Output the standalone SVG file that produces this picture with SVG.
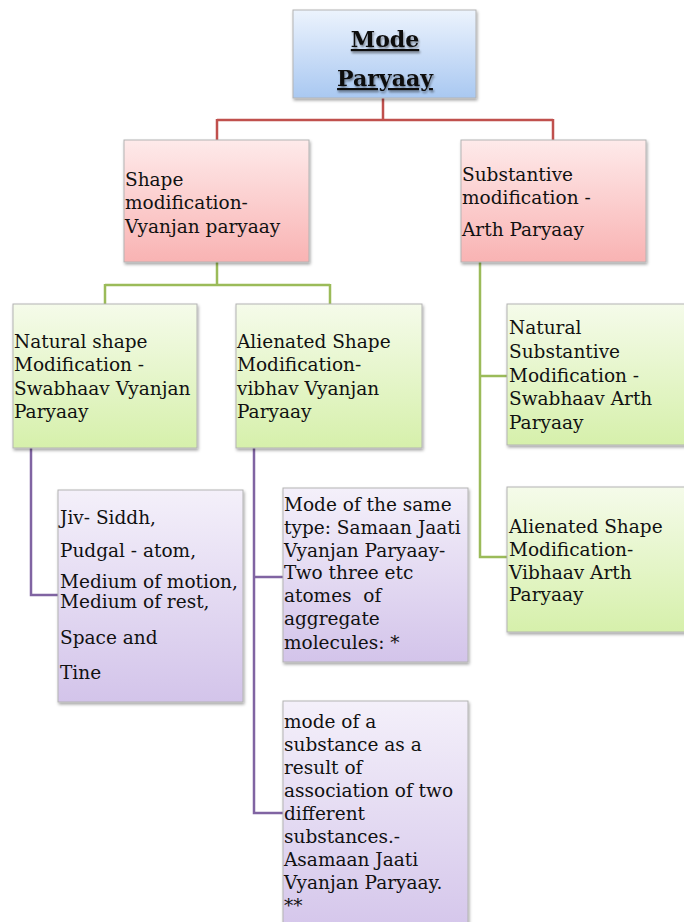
<svg xmlns="http://www.w3.org/2000/svg" width="684" height="922" viewBox="0 0 684 922">
<style>
text{font-family:"DejaVu Serif","Liberation Serif",serif;font-size:18.5px;fill:#111}
.title{font-size:22px;font-weight:bold;text-decoration:underline;filter:url(#tsh)}
.box{stroke:#b3b3b3;stroke-width:1;filter:url(#sh)}
.red{stroke:#c0504d;stroke-width:2.5;fill:none}
.grn{stroke:#9bbb59;stroke-width:2.5;fill:none}
.pur{stroke:#8064a2;stroke-width:2.5;fill:none}
</style>
<defs>
<linearGradient id="gb" x1="0" y1="0" x2="0" y2="1"><stop offset="0" stop-color="#ecf3fd"/><stop offset="1" stop-color="#a9c8f1"/></linearGradient>
<linearGradient id="gr" x1="0" y1="0" x2="0" y2="1"><stop offset="0" stop-color="#feeaea"/><stop offset="1" stop-color="#f9b3b3"/></linearGradient>
<linearGradient id="gg" x1="0" y1="0" x2="0" y2="1"><stop offset="0" stop-color="#f5fbea"/><stop offset="1" stop-color="#d6f0ab"/></linearGradient>
<linearGradient id="gp" x1="0" y1="0" x2="0" y2="1"><stop offset="0" stop-color="#f4f0fa"/><stop offset="1" stop-color="#d3c4ea"/></linearGradient>
<filter id="sh" x="-10%" y="-10%" width="130%" height="130%"><feDropShadow dx="1" dy="2" stdDeviation="1.5" flood-color="#000" flood-opacity="0.35"/></filter>
<filter id="tsh" x="-10%" y="-20%" width="130%" height="160%"><feDropShadow dx="1" dy="2" stdDeviation="0.8" flood-color="#000" flood-opacity="0.45"/></filter>
</defs>
<g id="connectors">
<path class="red" d="M383 98V120M217 120H553M217 119V140M553 119V140"/>
<path class="grn" d="M217 262V285M105 285H330M105 284V304M330 284V304"/>
<path class="grn" d="M480 262V557H507M480 376H507"/>
<path class="pur" d="M31 448V595H58"/>
<path class="pur" d="M254 448V813H283M254 577H283"/>
</g>
<g id="mode">
<rect class="box" x="293" y="10" width="183" height="88" fill="url(#gb)"/>
<text class="title" x="385" y="47" text-anchor="middle">Mode</text>
<text class="title" x="385" y="86" text-anchor="middle">Paryaay</text>
</g>
<g id="shape">
<rect class="box" x="124" y="140" width="185" height="122" fill="url(#gr)"/>
<text x="125" y="186">Shape</text>
<text x="125" y="209">modification-</text>
<text x="125" y="233">Vyanjan paryaay</text>
</g>
<g id="substantive">
<rect class="box" x="461" y="140" width="185" height="122" fill="url(#gr)"/>
<text x="462" y="181">Substantive</text>
<text x="462" y="204">modification -</text>
<text x="462" y="236">Arth Paryaay</text>
</g>
<g id="natural-shape">
<rect class="box" x="13" y="304" width="184" height="144" fill="url(#gg)"/>
<text x="14" y="348">Natural shape</text>
<text x="14" y="371">Modification -</text>
<text x="14" y="395">Swabhaav Vyanjan</text>
<text x="14" y="418">Paryaay</text>
</g>
<g id="alienated-shape">
<rect class="box" x="236" y="304" width="186" height="144" fill="url(#gg)"/>
<text x="237" y="348">Alienated Shape</text>
<text x="237" y="371">Modification-</text>
<text x="237" y="395">vibhav Vyanjan</text>
<text x="237" y="418">Paryaay</text>
</g>
<g id="natural-substantive">
<rect class="box" x="507" y="304" width="200" height="141" fill="url(#gg)"/>
<text x="509" y="334">Natural</text>
<text x="509" y="358">Substantive</text>
<text x="509" y="382">Modification -</text>
<text x="509" y="405">Swabhaav Arth</text>
<text x="509" y="429">Paryaay</text>
</g>
<g id="alienated-arth">
<rect class="box" x="507" y="487" width="200" height="145" fill="url(#gg)"/>
<text x="509" y="533">Alienated Shape</text>
<text x="509" y="556">Modification-</text>
<text x="509" y="579">Vibhaav Arth</text>
<text x="509" y="601">Paryaay</text>
</g>
<g id="jiv">
<rect class="box" x="58" y="490" width="185" height="212" fill="url(#gp)"/>
<text x="60" y="524">Jiv- Siddh,</text>
<text x="60" y="557">Pudgal - atom,</text>
<text x="60" y="588">Medium of motion,</text>
<text x="60" y="608">Medium of rest,</text>
<text x="60" y="644">Space and</text>
<text x="60" y="679">Tine</text>
</g>
<g id="samaan">
<rect class="box" x="283" y="488" width="185" height="174" fill="url(#gp)"/>
<text x="284" y="511">Mode of the same</text>
<text x="284" y="534">type: Samaan Jaati</text>
<text x="284" y="557">Vyanjan Paryaay-</text>
<text x="284" y="579">Two three etc</text>
<text x="284" y="602" xml:space="preserve">atomes  of</text>
<text x="284" y="625">aggregate</text>
<text x="284" y="649">molecules: *</text>
</g>
<g id="asamaan">
<rect class="box" x="283" y="701" width="185" height="240" fill="url(#gp)"/>
<text x="284" y="728">mode of a</text>
<text x="284" y="751">substance as a</text>
<text x="284" y="774">result of</text>
<text x="284" y="797">association of two</text>
<text x="284" y="820">different</text>
<text x="284" y="843">substances.-</text>
<text x="284" y="866">Asamaan Jaati</text>
<text x="284" y="889">Vyanjan Paryaay.</text>
<text x="284" y="912">**</text>
</g>
</svg>
